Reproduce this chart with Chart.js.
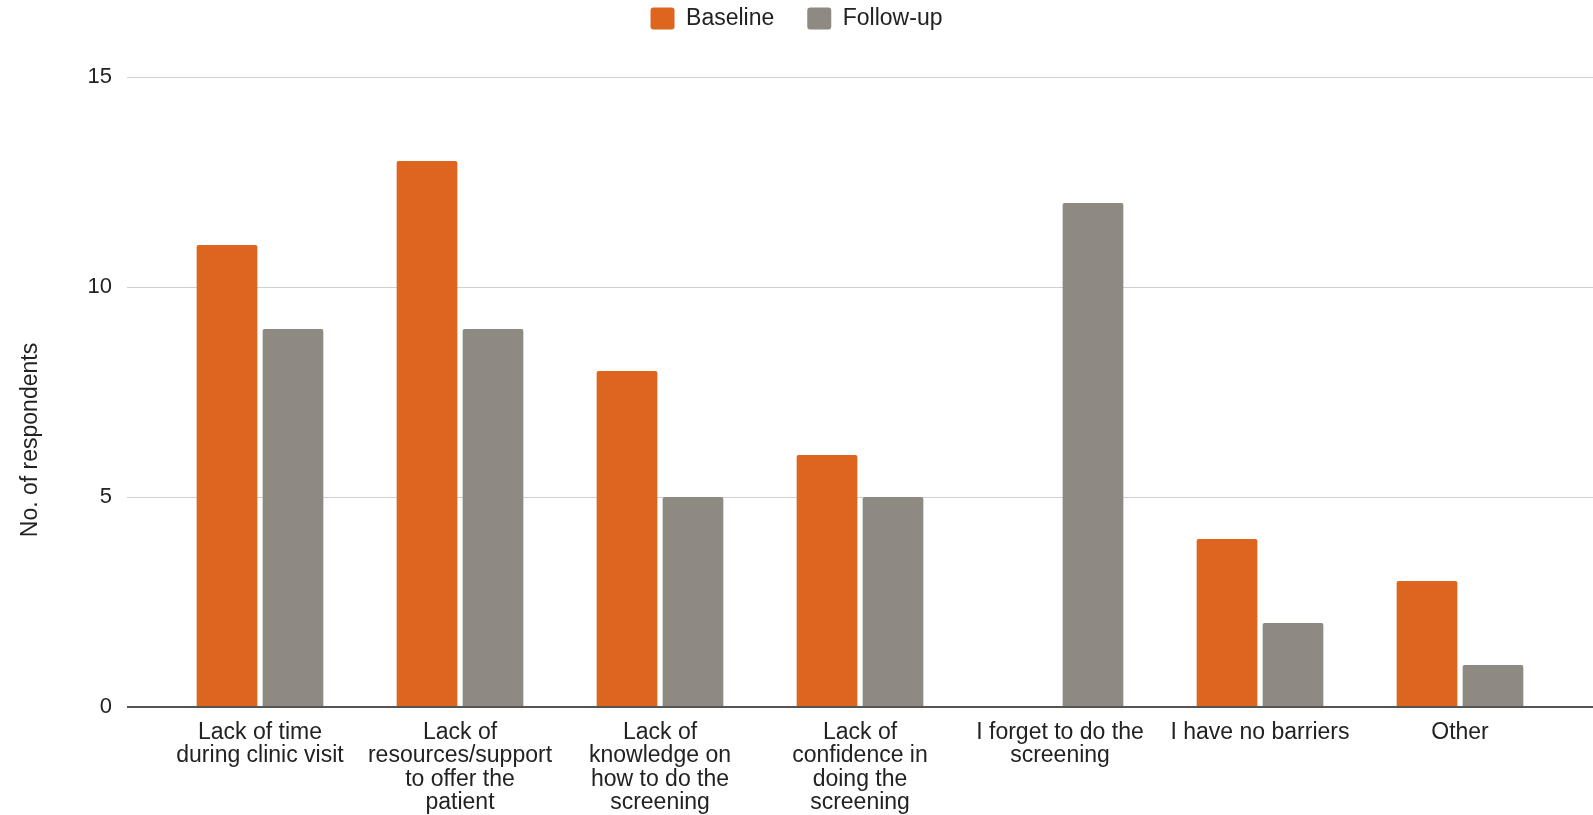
<!DOCTYPE html>
<html>
<head>
<meta charset="utf-8">
<script src="https://cdn.jsdelivr.net/npm/chart.js@4.4.1/dist/chart.umd.min.js"></script>
<style>
html, body { margin: 0; padding: 0; background: #fff; }
</style>
</head>
<body>
<canvas id="barChart" width="1593" height="815"></canvas>
<script>
// data
const categories = [
  ["Lack of time", "during clinic visit"],
  ["Lack of", "resources/support", "to offer the", "patient"],
  ["Lack of", "knowledge on", "how to do the", "screening"],
  ["Lack of", "confidence in", "doing the", "screening"],
  ["I forget to do the", "screening"],
  ["I have no barriers"],
  ["Other"]
];
const baseline = [11, 13, 8, 6, 0, 4, 3];
const followUp = [9, 9, 5, 5, 12, 2, 1];
const yTicks = [0, 5, 10, 15];
const yTitle = 'No. of respondents';

const fontFam = '"Liberation Sans", Arial, sans-serif';
const gridCol = '#d0d0d0';
const zeroCol = '#555555';

// axis title is not centred on the plot in the original, so draw it by hand
const yTitlePlugin = {
  id: 'yTitle',
  afterLayout(chart) {
    // legend sits right at the top, well above the plot
    const lg = chart.legend;
    const h = lg.bottom - lg.top;
    lg.top = 7 - lg.options.labels.padding;
    lg.bottom = lg.top + h;
  },
  afterDraw(chart) {
    const c = chart.ctx;
    c.save();
    c.translate(31, 440);
    c.rotate(-Math.PI / 2);
    c.fillStyle = '#222';
    c.font = '23px ' + fontFam;
    c.textAlign = 'center';
    c.textBaseline = 'middle';
    c.fillText(yTitle, 0, 0);
    c.restore();
  }
};

const ctx = document.getElementById('barChart');

new Chart(ctx, {
  type: 'bar',
  data: {
    labels: categories,
    datasets: [{
      label: 'Baseline',
      data: baseline,
      backgroundColor: '#dd651f',
      borderRadius: 2,
      borderSkipped: 'bottom'
    }, {
      label: 'Follow-up',
      data: followUp,
      backgroundColor: '#8f8a81',
      borderRadius: 2,
      borderSkipped: 'bottom'
    }]
  },
  plugins: [yTitlePlugin],
  options: {
    responsive: false,
    devicePixelRatio: 1,
    animation: false,
    datasets: {
      bar: { categoryPercentage: 0.66, barPercentage: 0.92 }
    },
    layout: { padding: 0 },
    plugins: {
      tooltip: { enabled: false },
      legend: {
        position: 'top',
        labels: {
          font: { family: fontFam, size: 23 },
          color: '#222',
          boxWidth: 24,
          boxHeight: 22,
          padding: 33,
          useBorderRadius: true,
          borderRadius: 3
        }
      }
    },
    scales: {
      x: {
        grid: { display: false },
        border: { display: false },
        ticks: {
          autoSkip: false,
          maxRotation: 0,
          padding: 6,
          color: '#222',
          font: { family: fontFam, size: 23, lineHeight: 1.017 }
        },
        afterFit: function(s) { s.height = 108; }
      },
      y: {
        min: 0,
        max: 15,
        afterBuildTicks: function(s) { s.ticks = yTicks.map(v => ({ value: v })); },
        border: { display: false },
        grid: {
          tickLength: 33,
          color: c => (c.tick && c.tick.value === 0) ? zeroCol : gridCol,
          lineWidth: c => (c.tick && c.tick.value === 0) ? 2 : 1
        },
        ticks: {
          padding: 15,
          color: '#222',
          font: { family: fontFam, size: 22 }
        },
        afterFit: function(s) { s.width = 160; s.paddingTop = 77; }
      },
      y2: {
        position: 'right',
        min: 0,
        max: 15,
        afterBuildTicks: function(s) { s.ticks = yTicks.map(v => ({ value: v })); },
        border: { display: false },
        grid: {
          drawOnChartArea: false,
          tickLength: 33,
          color: c => (c.tick && c.tick.value === 0) ? zeroCol : gridCol,
          lineWidth: c => (c.tick && c.tick.value === 0) ? 2 : 1
        },
        ticks: { display: false },
        afterFit: function(s) { s.width = 33; s.paddingTop = 77; }
      }
    }
  }
});
</script>
</body>
</html>
